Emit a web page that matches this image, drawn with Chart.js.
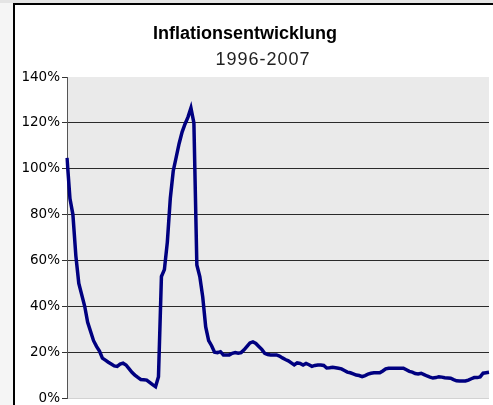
<!DOCTYPE html>
<html>
<head>
<meta charset="utf-8">
<script src="https://cdn.jsdelivr.net/npm/chart.js@4"></script>
<style>
  html, body { margin: 0; padding: 0; overflow: hidden; background: #f5f5f5; }
  canvas { display: block; }
</style>
</head>
<body>
<canvas id="grafico" width="493" height="430"></canvas>
<script>
const titel = "Inflationsentwicklung";
const untertitel = "1996-2007";
const jahre = [1996, 1997, 1998, 1999, 2000, 2001, 2002, 2003, 2004, 2005, 2006, 2007];
const monate = ["Jan", "Feb", "Mär", "Apr", "Mai", "Jun", "Jul", "Aug", "Sep", "Okt", "Nov", "Dez"];

// Inflation in % gegenüber Vorjahresmonat
const inflation = [
  104.7, 87, 80, 62, 50, 45, 40, 33, 29, 25,
  22.5, 20.5, 17.4, 16.5, 15.6, 14.8, 14, 13.8, 14.8, 15.2,
  14.4, 12.8, 11.2, 10, 9, 8.1, 8, 7.8, 6.8, 5.8,
  4.9, 9.3, 53, 56, 68, 87, 99, 105, 111, 116,
  119.5, 122.5, 126.5, 120, 58, 53, 44, 31, 25, 22.8,
  20, 19.8, 20.2, 18.8, 18.8, 18.8, 19.5, 19.8, 19.5, 19.8,
  21, 22.5, 24, 24.5, 23.8, 22.5, 21.2, 19.5, 19, 18.8,
  18.8, 18.8, 18.3, 17.5, 16.8, 16.2, 15.3, 14.4, 15.3, 15.1,
  14.4, 15.1, 14.5, 13.8, 14.2, 14.4, 14.4, 14.2, 13.1, 13.2,
  13.4, 13.2, 13, 12.7, 12, 11.3, 11, 10.5, 10, 9.8,
  9.3, 9.8, 10.4, 10.8, 11, 11, 11, 11.8, 12.7, 13,
  13, 13, 13, 13, 13, 12.3, 11.6, 11.3, 10.7, 10.5,
  10.8, 10.2, 9.6, 9.1, 8.7, 8.9, 9.3, 9.1, 8.8, 8.7,
  8.6, 8, 7.5, 7.4, 7.4, 7.4, 7.8, 8.4, 8.9, 8.9,
  9.2, 10.8, 11, 11.2
];

const yMin = 0;
const yMax = 140;
const yStep = 20;

const labels = [];
jahre.forEach(j => monate.forEach(m => labels.push(m + " " + j)));

// Rahmen, Hintergrund und Titel
const rahmen = {
  id: "rahmen",
  beforeDraw(chart) {
    const { ctx, width, height, chartArea } = chart;
    ctx.save();
    ctx.fillStyle = "#f5f5f5";
    ctx.fillRect(0, 0, width, height);
    ctx.fillStyle = "#e4e4e4";
    ctx.fillRect(0, 0, width, 3);
    ctx.fillStyle = "#ffffff";
    ctx.fillRect(13, 3, width - 13, height - 3);
    ctx.fillStyle = "#000000";
    ctx.fillRect(13, 3, 2, height - 3);
    ctx.fillRect(13, 3, width - 13, 2);
    ctx.fillStyle = "#eaeaea";
    ctx.fillRect(chartArea.left, chartArea.top, chartArea.right - chartArea.left, chartArea.bottom - chartArea.top);
    ctx.restore();
  },
  afterDraw(chart) {
    const { ctx, width, chartArea } = chart;
    ctx.save();
    // rechter Rand oberhalb der Zeichenfläche weiß
    ctx.fillStyle = "#ffffff";
    ctx.fillRect(chartArea.right - 2, 5, width - chartArea.right + 2, chartArea.top - 5);
    ctx.textAlign = "center";
    ctx.textBaseline = "alphabetic";
    ctx.fillStyle = "#000000";
    ctx.font = "bold 18px 'Liberation Sans', Arial, sans-serif";
    ctx.fillText(titel, 245, 39);
    ctx.fillStyle = "#222222";
    ctx.font = "18px 'Liberation Sans', Arial, sans-serif";
    ctx.letterSpacing = "1px";
    ctx.fillText(untertitel, 263, 65);
    ctx.restore();
  }
};

new Chart(document.getElementById("grafico"), {
  type: "line",
  data: {
    labels: labels,
    datasets: [{
      label: "Inflation",
      data: inflation,
      borderColor: "#000080",
      borderWidth: 3.5,
      pointRadius: 0,
      tension: 0,
      fill: false
    }]
  },
  options: {
    responsive: false,
    animation: false,
    layout: { padding: { left: 0, top: 77, right: 4, bottom: 32 } },
    plugins: {
      legend: { display: false },
      tooltip: { enabled: false }
    },
    scales: {
      x: {
        display: false,
        offset: false
      },
      y: {
        min: yMin,
        max: yMax,
        afterFit(scale) { scale.width = 67; },
        ticks: {
          stepSize: yStep,
          padding: 2,
          color: "#000000",
          font: { family: "'DejaVu Sans', sans-serif", size: 13.5 },
          callback: v => v + "%"
        },
        grid: {
          tickLength: 5,
          lineWidth: 1,
          tickColor: "#333333",
          color: c => c.tick.value === 0 ? "#d2d2d2" : (c.tick.value === yMax ? "rgba(0,0,0,0)" : "#2a2a2a")
        },
        border: { display: true, color: "#555555", width: 1 }
      }
    }
  },
  plugins: [rahmen]
});
</script>
</body>
</html>
